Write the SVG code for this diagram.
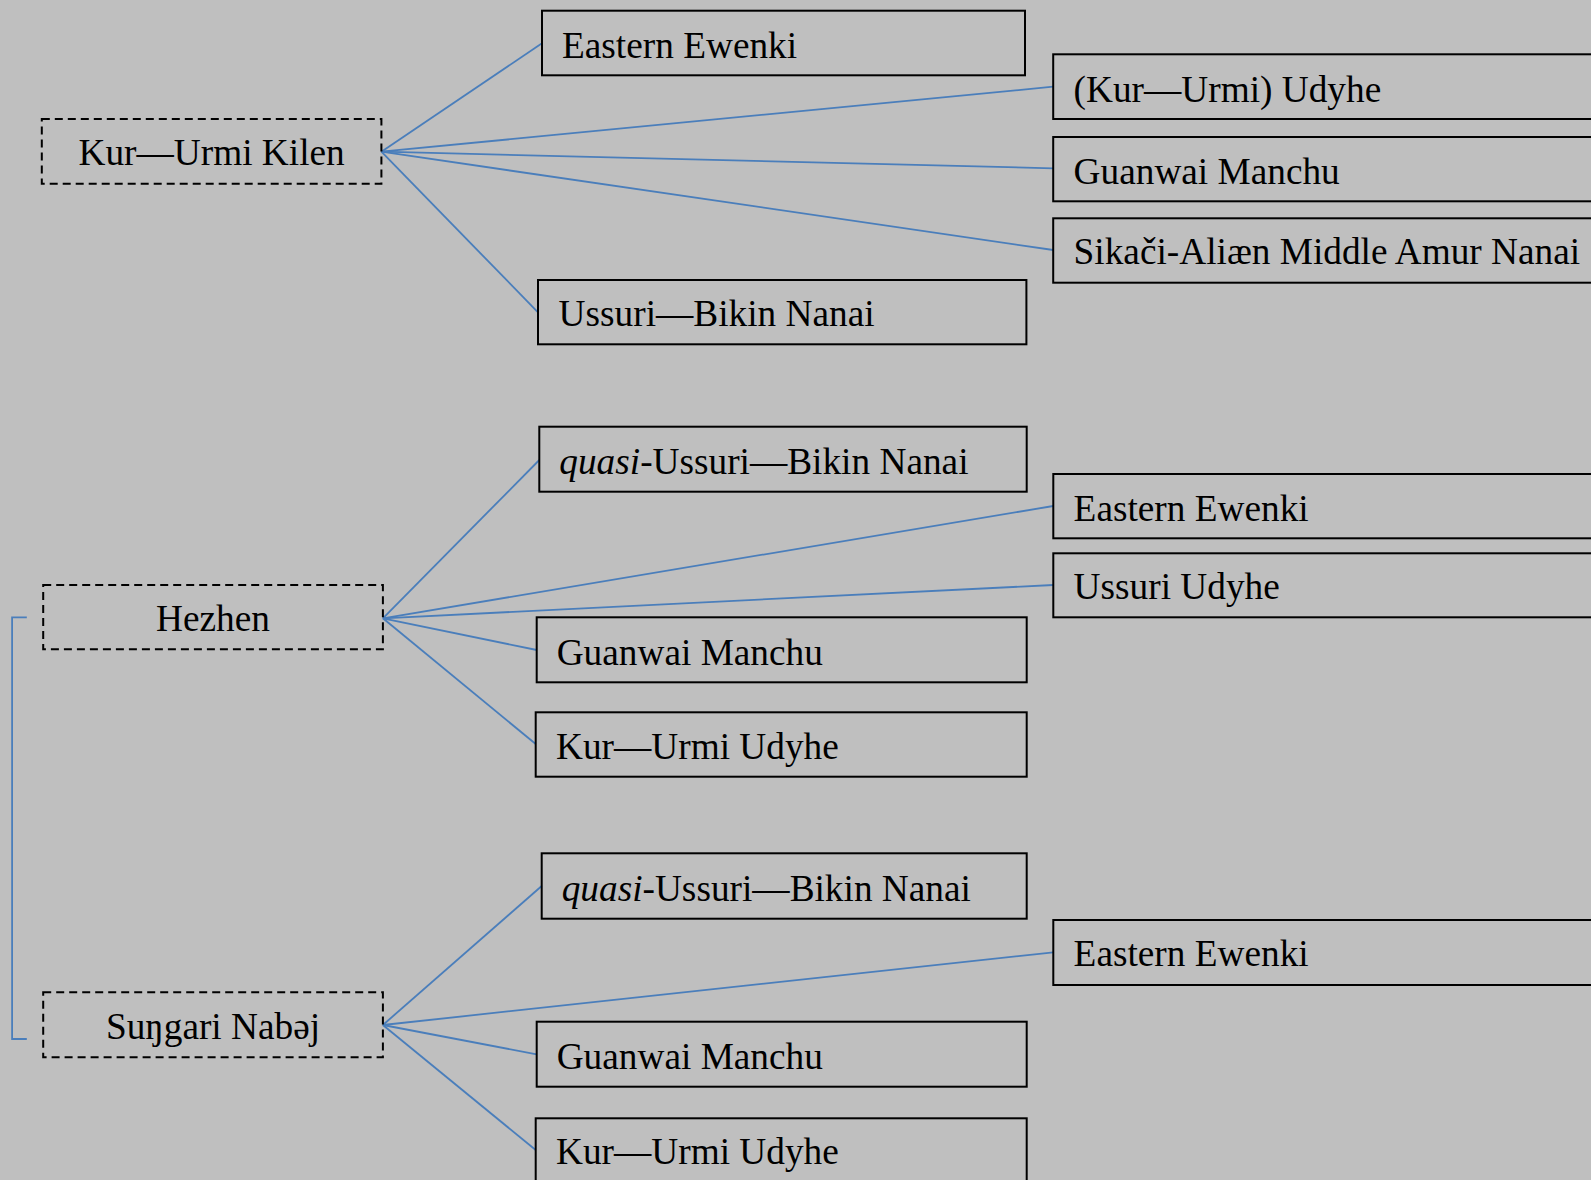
<svg xmlns="http://www.w3.org/2000/svg" width="1591" height="1180" viewBox="0 0 1591 1180">
<style>
.bg{fill:#bfbfbf}
.box{fill:none;stroke:#000;stroke-width:2}
.dbox{fill:none;stroke:#000;stroke-width:2;stroke-dasharray:8 5}
.t{font-family:"Liberation Serif","Times New Roman",serif;font-size:37.3px;fill:#000}
.c{text-anchor:middle}
.ln{fill:none;stroke:#4a7ebb;stroke-width:1.8}
</style>
<rect class="bg" x="0" y="0" width="1591" height="1180"/>
<g id="connectors">
<path class="ln" d="M381.4 151.7 L542 43.3"/>
<path class="ln" d="M381.4 151.7 L1053.2 86.7"/>
<path class="ln" d="M381.4 151.7 L1053.2 168.3"/>
<path class="ln" d="M381.4 151.7 L1053.2 250"/>
<path class="ln" d="M381.4 151.7 L538 312.3"/>
<path class="ln" d="M382.9 618.3 L539.3 460"/>
<path class="ln" d="M382.9 618.3 L1053.3 506"/>
<path class="ln" d="M382.9 618.3 L1053.3 585"/>
<path class="ln" d="M382.9 618.3 L536.7 650"/>
<path class="ln" d="M382.9 618.3 L535.7 744"/>
<path class="ln" d="M382.9 1025 L541.7 886"/>
<path class="ln" d="M382.9 1025 L1053.3 952.3"/>
<path class="ln" d="M382.9 1025 L536.7 1054.3"/>
<path class="ln" d="M382.9 1025 L535.7 1150"/>
<path class="ln" d="M26.8 617.3 H12.1 V1039 H26.8"/>
</g>
<g id="kur-urmi-kilen"><rect class="dbox" x="41.8" y="119" width="339.6" height="64.7"/><text class="t c" x="211.6" y="165.3">Kur—Urmi Kilen</text></g>
<g id="top-eastern-ewenki"><rect class="box" x="542" y="10.7" width="483" height="64.6"/><text class="t" x="562" y="57.7">Eastern Ewenki</text></g>
<g id="top-kur-urmi-udyhe"><rect class="box" x="1053.2" y="54.3" width="600" height="64.7"/><text class="t" x="1073.6" y="102">(Kur—Urmi) Udyhe</text></g>
<g id="top-guanwai-manchu"><rect class="box" x="1053.2" y="137" width="600" height="64.3"/><text class="t" x="1073.6" y="183.7">Guanwai Manchu</text></g>
<g id="top-sikaci"><rect class="box" x="1053.2" y="218.3" width="600" height="64.4"/><text class="t" x="1073.6" y="263.7">Sikači-Aliæn Middle Amur Nanai</text></g>
<g id="top-ussuri-bikin"><rect class="box" x="538" y="280" width="488.4" height="64.3"/><text class="t" x="558.6" y="326">Ussuri—Bikin Nanai</text></g>
<g id="hezhen"><rect class="dbox" x="43.2" y="585" width="339.7" height="64.3"/><text class="t c" x="213" y="631">Hezhen</text></g>
<g id="mid-quasi"><rect class="box" x="539.3" y="426.7" width="487.4" height="65"/><text class="t" x="559.3" y="473.7"><tspan font-style="italic">quasi</tspan>-Ussuri—Bikin Nanai</text></g>
<g id="mid-eastern-ewenki"><rect class="box" x="1053.3" y="474" width="600" height="64.3"/><text class="t" x="1073.6" y="521">Eastern Ewenki</text></g>
<g id="mid-ussuri-udyhe"><rect class="box" x="1053.3" y="553.3" width="600" height="64"/><text class="t" x="1073.6" y="599.3">Ussuri Udyhe</text></g>
<g id="mid-guanwai-manchu"><rect class="box" x="536.7" y="617.3" width="490" height="65"/><text class="t" x="556.7" y="665">Guanwai Manchu</text></g>
<g id="mid-kur-urmi-udyhe"><rect class="box" x="535.7" y="712.3" width="491" height="64.4"/><text class="t" x="556" y="758.7">Kur—Urmi Udyhe</text></g>
<g id="sungari-nabej"><rect class="dbox" x="43.2" y="992.3" width="339.7" height="65"/><text class="t c" x="213" y="1039.3">Suŋgari Nabəj</text></g>
<g id="bot-quasi"><rect class="box" x="541.7" y="853.3" width="485" height="65.4"/><text class="t" x="561.7" y="901"><tspan font-style="italic">quasi</tspan>-Ussuri—Bikin Nanai</text></g>
<g id="bot-eastern-ewenki"><rect class="box" x="1053.3" y="920" width="600" height="65"/><text class="t" x="1073.6" y="966">Eastern Ewenki</text></g>
<g id="bot-guanwai-manchu"><rect class="box" x="536.7" y="1021.7" width="490" height="65"/><text class="t" x="556.7" y="1068.7">Guanwai Manchu</text></g>
<g id="bot-kur-urmi-udyhe"><rect class="box" x="535.7" y="1118.3" width="491" height="65"/><text class="t" x="556" y="1164.3">Kur—Urmi Udyhe</text></g>
</svg>
